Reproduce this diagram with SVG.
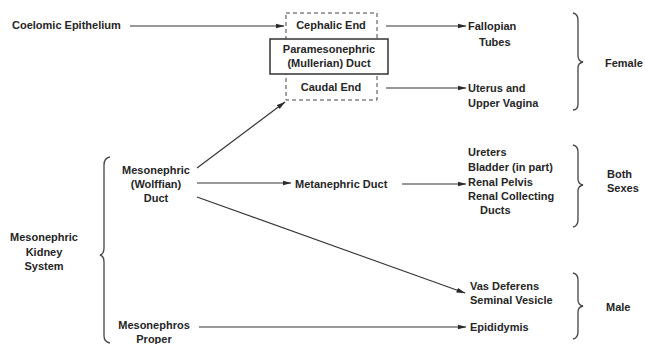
<svg xmlns="http://www.w3.org/2000/svg" width="645" height="344" viewBox="0 0 645 344">
<defs>
<marker id="ah" markerWidth="9" markerHeight="6" refX="8.5" refY="3" orient="auto" markerUnits="userSpaceOnUse">
<path d="M0,0.6 L9,3 L0,5.4 Z" fill="#2a2a2a"/>
</marker>
<style>
text{font-family:"Liberation Sans",Arial,sans-serif;font-size:11px;font-weight:bold;fill:#262626}
.c{text-anchor:middle}
.ln{stroke:#333;stroke-width:1.1;fill:none}
.ar{stroke:#333;stroke-width:1.1;fill:none;marker-end:url(#ah)}
.br{stroke:#444;stroke-width:1.3;fill:none}
.dash{stroke:#444;stroke-width:1;fill:none;stroke-dasharray:4,3}
.box{stroke:#333;stroke-width:1.5;fill:#fff}
</style>
</defs>
<rect width="645" height="344" fill="#fff"/>

<g id="connectors">
<line class="ar" x1="130" y1="26" x2="284" y2="26"/>
<line class="ar" x1="386" y1="26" x2="466" y2="26"/>
<line class="ar" x1="386" y1="88" x2="466" y2="88"/>
<line class="ar" x1="197" y1="168" x2="285" y2="102"/>
<line class="ar" x1="197" y1="183" x2="291" y2="183"/>
<line class="ar" x1="402" y1="184" x2="466" y2="184"/>
<line class="ar" x1="197" y1="197" x2="465" y2="293"/>
<line class="ar" x1="199" y1="327" x2="466" y2="327"/>
</g>

<g id="coelomic"><text x="12" y="29">Coelomic Epithelium</text></g>

<g id="paramesonephric">
<rect class="dash" x="286" y="13" width="91" height="87"/>
<text class="c" x="331" y="29">Cephalic End</text>
<rect class="box" x="270" y="39" width="118" height="35"/>
<text class="c" x="329" y="53">Paramesonephric</text>
<text class="c" x="329" y="67">(Mullerian) Duct</text>
<text class="c" x="331" y="91">Caudal End</text>
</g>

<g id="fallopian"><text x="468" y="30">Fallopian</text><text x="479" y="46">Tubes</text></g>
<g id="uterus"><text x="468" y="92">Uterus and</text><text x="468" y="107">Upper Vagina</text></g>

<g id="female">
<path class="br" d="M573,13 Q578,14 578,20 L578,56 Q578,61 583,62 Q578,63 578,68 L578,104 Q578,110 573,110"/>
<text x="605" y="67">Female</text>
</g>

<g id="mesonephric-duct">
<text class="c" x="156" y="174">Mesonephric</text>
<text class="c" x="156" y="188">(Wolffian)</text>
<text class="c" x="156" y="202">Duct</text>
</g>

<g id="metanephric"><text x="295" y="188">Metanephric Duct</text></g>

<g id="kidney-derivatives">
<text x="468" y="156">Ureters</text>
<text x="468" y="171">Bladder (in part)</text>
<text x="468" y="186">Renal Pelvis</text>
<text x="468" y="200">Renal Collecting</text>
<text x="480" y="214">Ducts</text>
</g>

<g id="both">
<path class="br" d="M573,145 Q578,146 578,152 L578,179 Q578,184 583,185 Q578,186 578,191 L578,220 Q578,226 573,227"/>
<text x="607" y="178">Both</text>
<text x="607" y="192">Sexes</text>
</g>

<g id="kidney-system">
<text class="c" x="44" y="241">Mesonephric</text>
<text class="c" x="44" y="256">Kidney</text>
<text class="c" x="44" y="270">System</text>
<path class="br" d="M110,157 Q104,158 104,165 L104,248 Q104,254 100,255 Q104,256 104,262 L104,336 Q104,342 110,343"/>
</g>

<g id="vas"><text x="470" y="290">Vas Deferens</text><text x="470" y="304">Seminal Vesicle</text></g>

<g id="mesonephros-proper">
<text class="c" x="154" y="329">Mesonephros</text>
<text class="c" x="154" y="343">Proper</text>
</g>

<g id="epididymis"><text x="470" y="331">Epididymis</text></g>

<g id="male">
<path class="br" d="M573,273 Q578,274 578,280 L578,300 Q578,305 583,306 Q578,307 578,312 L578,332 Q578,338 573,339"/>
<text x="606" y="311">Male</text>
</g>
</svg>
